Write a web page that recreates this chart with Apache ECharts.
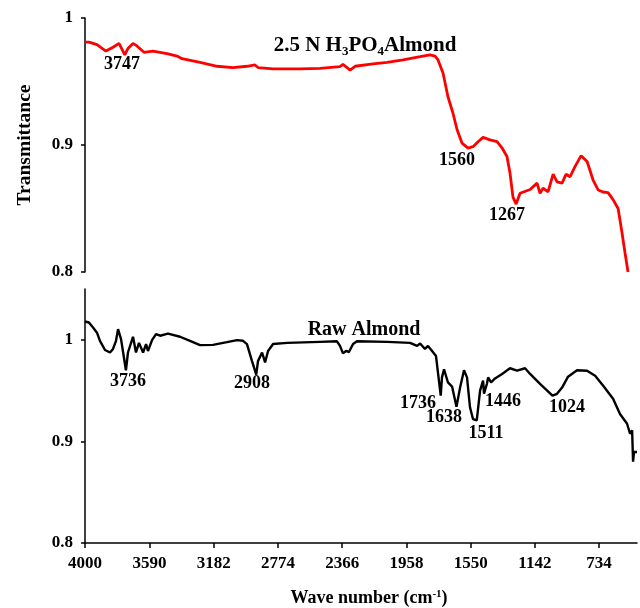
<!DOCTYPE html>
<html>
<head>
<meta charset="utf-8">
<script src="https://cdn.jsdelivr.net/npm/echarts@6/dist/echarts.min.js"></script>
<style>
html,body{margin:0;padding:0;background:#fff;}
#chart{width:640px;height:608px;}
</style>
</head>
<body>
<div id="chart"></div>
<script>
// ---- Data ----
const xTicks = [4000, 3590, 3182, 2774, 2366, 1958, 1550, 1142, 734];
const yTicks = [0.8, 0.9, 1];

// 2.5 N H3PO4 Almond (top, red)
const acidWn = [4000,3975,3924,3867,3822,3784,3747,3727,3695,3670,3625,3568,3479,3415,3384,3269,3161,3060,2971,2920,2901,2805,2634,2507,2380,2361,2335,2316,2284,2170,2081,1979,1871,1808,1776,1757,1725,1694,1662,1636,1605,1566,1535,1503,1471,1427,1382,1350,1319,1300,1281,1261,1236,1172,1128,1109,1090,1058,1026,1001,969,944,918,887,848,810,772,740,709,677,645,613,588,569,550];
const acidT  = [0.981,0.981,0.979,0.974,0.977,0.980,0.971,0.976,0.980,0.978,0.973,0.974,0.972,0.970,0.968,0.965,0.962,0.961,0.962,0.963,0.961,0.960,0.960,0.9604,0.9617,0.9635,0.961,0.959,0.962,0.9638,0.965,0.967,0.9695,0.971,0.970,0.967,0.9565,0.938,0.925,0.912,0.9015,0.8976,0.8987,0.9026,0.906,0.904,0.9026,0.8976,0.891,0.878,0.859,0.8535,0.862,0.865,0.870,0.862,0.866,0.863,0.877,0.871,0.870,0.877,0.875,0.883,0.8916,0.887,0.8724,0.8646,0.863,0.8625,0.857,0.850,0.8307,0.815,0.800];

// Raw Almond (bottom, black)
const rawWn = [4000,3975,3949,3924,3905,3873,3841,3822,3803,3790,3771,3740,3727,3695,3676,3657,3631,3612,3600,3574,3549,3523,3473,3396,3333,3269,3187,3098,3034,2996,2971,2939,2912,2901,2875,2856,2837,2805,2716,2507,2399,2380,2361,2342,2323,2297,2272,2081,1935,1890,1871,1840,1821,1795,1770,1740,1732,1719,1694,1668,1640,1617,1592,1573,1554,1535,1511,1490,1471,1465,1446,1439,1420,1395,1350,1300,1255,1204,1172,1109,1030,1001,969,931,874,810,759,709,645,601,556,537,524,518,512,493];
const rawT  = [1.018,1.017,1.012,1.007,0.999,0.990,0.9875,0.991,0.999,1.0105,1.0007,0.970,0.9875,1.003,0.9875,0.997,0.9875,0.9958,0.989,0.9997,1.0056,1.004,1.006,1.003,0.999,0.9948,0.995,0.9977,0.9997,0.999,0.9958,0.979,0.9657,0.979,0.9875,0.9777,0.989,0.9958,0.997,0.998,0.9985,0.994,0.9866,0.989,0.988,0.9958,0.9985,0.998,0.997,0.994,0.9964,0.991,0.994,0.989,0.984,0.945,0.963,0.971,0.958,0.954,0.934,0.953,0.970,0.963,0.9336,0.922,0.9206,0.950,0.9598,0.947,0.957,0.963,0.958,0.962,0.9664,0.972,0.9696,0.972,0.9664,0.9566,0.945,0.9468,0.953,0.9637,0.970,0.9696,0.9647,0.955,0.942,0.927,0.9174,0.9075,0.911,0.880,0.8895,0.8895];

// Peak annotations (text, and label anchor in data space)
const acidPeakText = ['3747', '1560', '1267'];
const acidPeakWn   = [3765, 1636, 1319];
const acidPeakT    = [0.9638, 0.888, 0.845];
const rawPeakText  = ['3736', '2908', '1736', '1638', '1511', '1446', '1024'];
const rawPeakWn    = [3727, 2939, 1884, 1719, 1452, 1344, 937];
const rawPeakT     = [0.9588, 0.957, 0.937, 0.9235, 0.908, 0.939, 0.934];

// Series titles
const acidTitleWn = 2221, acidTitleT = 0.978;
const rawTitleWn = 2227, rawTitleT = 1.0098;

// ---- Chart ----
const FONT = '"Liberation Serif", "Times New Roman", serif';
const zip = (a, b) => a.map((v, i) => [v, b[i]]);
const ann = (texts, xs, ys) => texts.map((t, i) => ({ name: t, value: [xs[i], ys[i]] }));

const chart = echarts.init(document.getElementById('chart'), null, { renderer: 'canvas' });

const xBase = {
  type: 'value', min: 493, max: 4000, inverse: true,
  splitLine: { show: false }
};
const yLabel = {
  customValues: yTicks, margin: 12,
  fontFamily: FONT, fontWeight: 'bold', fontSize: 17, color: '#000',
  formatter: v => (Math.abs(v - 1) < 1e-9 ? '1' : v.toFixed(1))
};
const annLabel = {
  show: true, position: 'inside', formatter: p => p.name,
  fontFamily: FONT, fontWeight: 'bold', fontSize: 18, color: '#000', opacity: 1
};

const option = {
  animation: false,
  backgroundColor: '#fff',
  grid: [
    { left: 85, right: 3, top: 18, height: 254 },
    { left: 85, right: 3, top: 289, height: 254 }
  ],
  xAxis: [
    Object.assign({}, xBase, { gridIndex: 0, show: false }),
    Object.assign({}, xBase, {
      gridIndex: 1,
      axisLine: { show: true, lineStyle: { color: '#000', width: 1.5 } },
      axisTick: { show: true, customValues: xTicks, length: 5, inside: false, lineStyle: { color: '#000', width: 1.5 } },
      axisLabel: { customValues: xTicks, margin: 12, fontFamily: FONT, fontWeight: 'bold', fontSize: 17, color: '#000', formatter: v => String(v) },
      name: 'Wave number (cm{sup|-1})',
      nameLocation: 'middle',
      nameGap: 46,
      nameTextStyle: {
        fontFamily: FONT, fontWeight: 'bold', fontSize: 18, color: '#000', padding: [0, 0, 0, 16],
        rich: { sup: { fontFamily: FONT, fontWeight: 'bold', fontSize: 11, color: '#000', verticalAlign: 'top', lineHeight: 12 } }
      }
    })
  ],
  yAxis: [
    {
      type: 'value', gridIndex: 0, min: 0.8, max: 1,
      axisLine: { show: true, lineStyle: { color: '#000', width: 1.5 } },
      axisTick: { show: true, customValues: yTicks, length: 4, lineStyle: { color: '#000', width: 1.5 } },
      axisLabel: yLabel,
      splitLine: { show: false },
      name: 'Transmittance',
      nameLocation: 'middle',
      nameGap: 50,
      nameTextStyle: { fontFamily: FONT, fontWeight: 'bold', fontSize: 19.5, color: '#000' }
    },
    {
      type: 'value', gridIndex: 1, min: 0.8, max: 1.05,
      axisLine: { show: true, lineStyle: { color: '#000', width: 1.5 } },
      axisTick: { show: true, customValues: yTicks, length: 4, lineStyle: { color: '#000', width: 1.5 } },
      axisLabel: yLabel,
      splitLine: { show: false }
    }
  ],
  series: [
    {
      type: 'line', xAxisIndex: 0, yAxisIndex: 0,
      data: zip(acidWn, acidT), showSymbol: false, symbol: 'none',
      lineStyle: { color: '#ff0000', width: 2.8 }, z: 3
    },
    {
      type: 'line', xAxisIndex: 1, yAxisIndex: 1,
      data: zip(rawWn, rawT), showSymbol: false, symbol: 'none',
      lineStyle: { color: '#000', width: 2.4 }, z: 3
    },
    {
      type: 'scatter', xAxisIndex: 0, yAxisIndex: 0, symbolSize: 0,
      itemStyle: { opacity: 1 },
      data: ann(acidPeakText, acidPeakWn, acidPeakT),
      label: annLabel, silent: true, z: 5
    },
    {
      type: 'scatter', xAxisIndex: 1, yAxisIndex: 1, symbolSize: 0,
      itemStyle: { opacity: 1 },
      data: ann(rawPeakText, rawPeakWn, rawPeakT),
      label: annLabel, silent: true, z: 5
    },
    {
      type: 'scatter', xAxisIndex: 0, yAxisIndex: 0, symbolSize: 0,
      itemStyle: { opacity: 1 },
      data: [{ name: 'acid', value: [acidTitleWn, acidTitleT] }],
      label: {
        show: true, position: 'inside', opacity: 1,
        formatter: '{b|2.5 N H}{s|3}{b|PO}{s|4}{b|Almond}',
        rich: {
          b: { fontFamily: FONT, fontWeight: 'bold', fontSize: 21, color: '#000', lineHeight: 24 },
          s: { fontFamily: FONT, fontWeight: 'bold', fontSize: 13, color: '#000', verticalAlign: 'bottom', lineHeight: 24, padding: [9, 0, 0, 0] }
        }
      },
      silent: true, z: 5
    },
    {
      type: 'scatter', xAxisIndex: 1, yAxisIndex: 1, symbolSize: 0,
      itemStyle: { opacity: 1 },
      data: [{ name: 'Raw Almond', value: [rawTitleWn, rawTitleT] }],
      label: { show: true, position: 'inside', opacity: 1, formatter: p => p.name, fontFamily: FONT, fontWeight: 'bold', fontSize: 20, color: '#000' },
      silent: true, z: 5
    }
  ]
};
chart.setOption(option);
</script>
</body>
</html>
